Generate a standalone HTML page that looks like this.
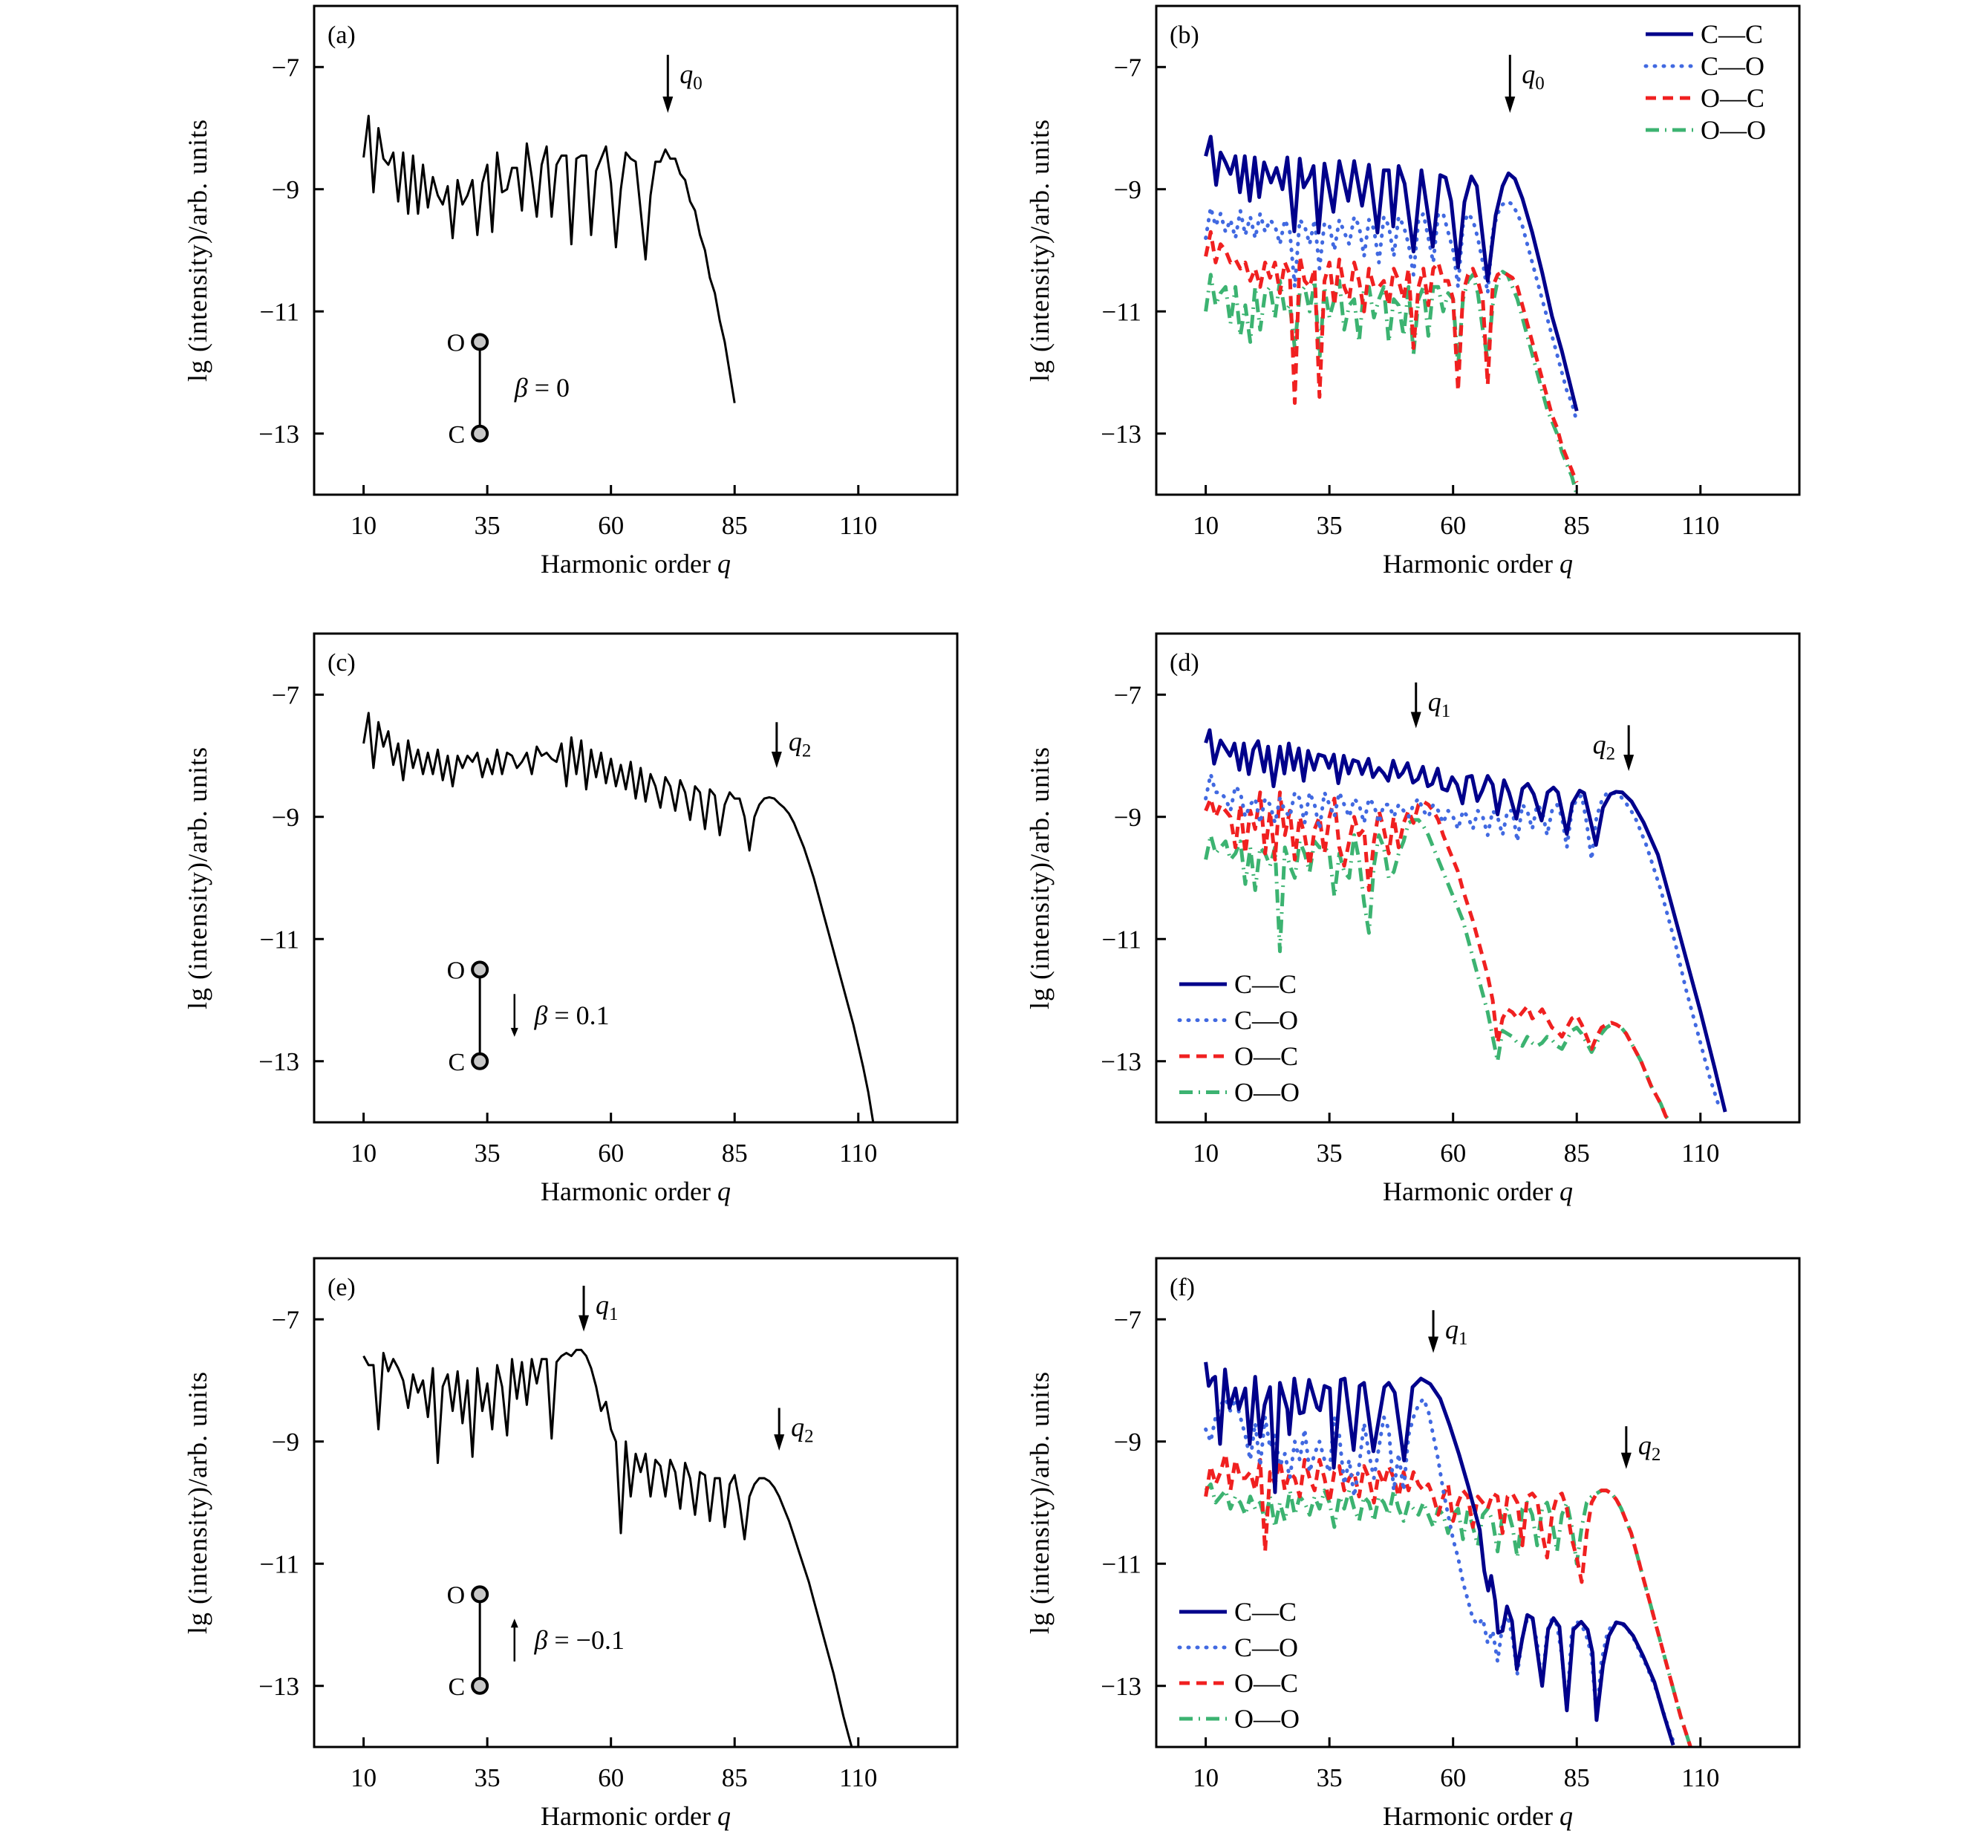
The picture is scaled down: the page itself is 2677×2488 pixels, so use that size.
<!DOCTYPE html>
<html><head><meta charset="utf-8"><style>
html,body{margin:0;padding:0;background:#fff;}
svg{display:block;}
text{font-family:"Liberation Serif","DejaVu Serif",serif;fill:#000;}
</style></head>
<body>
<svg id="fig" width="2677" height="2488" viewBox="0 0 2677 2488" xmlns="http://www.w3.org/2000/svg"></svg>
<script>
// ---------- data ----------
const xTicks = [10, 35, 60, 85, 110];
const yTicks = [-7, -9, -11, -13];
const qStart = 10;
// (a)
const aY = [-8.48,-7.8,-9.05,-8.0,-8.5,-8.6,-8.4,-9.2,-8.4,-9.4,-8.45,-9.4,-8.6,-9.3,-8.8,-9.1,-9.25,-8.95,-9.8,-8.85,-9.25,-9.1,-8.85,-9.75,-8.9,-8.6,-9.7,-8.4,-9.05,-9.0,-8.65,-8.65,-9.35,-8.25,-8.8,-9.45,-8.6,-8.3,-9.45,-8.6,-8.45,-8.45,-9.9,-8.5,-8.45,-8.45,-9.75,-8.7,-8.5,-8.3,-8.9,-9.95,-9.0,-8.4,-8.5,-8.55,-9.35,-10.15,-9.1,-8.55,-8.55,-8.35,-8.5,-8.5,-8.75,-8.85,-9.2,-9.35,-9.75,-10.0,-10.45,-10.7,-11.15,-11.5,-12.0,-12.5];
// (b)
const bCCq = [10,11,12.1,13,14,15,16,16.9,17.9,18.9,19.9,20.8,21.8,23.2,24.3,25.5,26.5,27.9,29,29.8,31,31.8,32.8,34,35.8,37,38.8,40,41.6,43,44.7,46,47,47.9,49,50.2,52,53.6,55.9,57.4,58.5,59.6,61,62.3,63.7,64.8,67,68.6,70,71.2,72.5,74,76,78,80,82,85];
const bCCy = [-8.46,-8.14,-8.93,-8.4,-8.56,-8.75,-8.46,-9.05,-8.46,-9.19,-8.48,-9.13,-8.56,-8.89,-8.65,-9.0,-8.48,-9.69,-8.5,-8.97,-8.8,-8.62,-9.71,-8.58,-9.37,-8.54,-9.19,-8.54,-9.27,-8.6,-9.71,-8.69,-8.69,-9.61,-8.62,-8.91,-10.02,-8.69,-9.94,-8.77,-8.81,-9.19,-10.28,-9.21,-8.79,-8.95,-10.5,-9.43,-8.95,-8.74,-8.83,-9.15,-9.71,-10.36,-11.08,-11.65,-12.63];
const bCO = [-9.8,-9.3,-9.6,-9.4,-9.7,-9.5,-9.8,-9.35,-9.75,-9.45,-9.8,-9.4,-9.7,-9.5,-9.6,-9.9,-9.5,-9.7,-10.6,-9.5,-9.6,-9.9,-9.5,-10.3,-9.55,-9.6,-10.0,-9.5,-9.7,-9.9,-9.45,-9.6,-10.1,-9.5,-9.65,-10.2,-9.45,-9.6,-10.1,-9.45,-9.6,-9.9,-10.4,-9.5,-9.4,-9.8,-10.2,-9.4,-9.4,-9.7,-10.0,-10.6,-9.6,-9.4,-9.5,-9.8,-10.2,-10.7,-9.7,-9.4,-9.25,-9.2,-9.25,-9.4,-9.6,-9.9,-10.2,-10.5,-10.8,-11.1,-11.4,-11.7,-12.0,-12.3,-12.5,-12.8];
const bOC = [-10.1,-9.7,-10.2,-9.9,-10.0,-10.2,-10.15,-10.3,-10.2,-10.5,-10.3,-10.6,-10.2,-10.45,-10.2,-10.7,-10.2,-10.4,-12.5,-10.1,-10.5,-10.6,-10.3,-12.4,-10.5,-10.2,-10.9,-10.15,-10.6,-10.8,-10.2,-10.5,-11.0,-10.3,-10.6,-10.6,-10.5,-10.9,-10.3,-10.5,-10.8,-10.3,-11.6,-10.6,-10.3,-10.9,-10.3,-10.2,-10.5,-10.5,-10.8,-12.3,-10.7,-10.4,-10.3,-10.5,-10.8,-12.2,-10.6,-10.4,-10.35,-10.4,-10.45,-10.6,-10.9,-11.2,-11.5,-11.8,-12.1,-12.4,-12.7,-12.9,-13.2,-13.4,-13.6,-13.8];
const bOO = [-11.0,-10.4,-10.9,-10.7,-10.6,-11.2,-10.6,-11.4,-10.9,-11.5,-10.6,-11.3,-10.7,-10.6,-11.1,-10.5,-11.0,-10.9,-11.6,-10.7,-10.6,-11.0,-10.5,-11.8,-10.6,-11.1,-10.8,-10.5,-11.3,-10.9,-10.8,-11.5,-10.6,-10.6,-11.1,-10.8,-10.6,-11.5,-10.8,-10.9,-11.4,-10.6,-11.7,-10.8,-10.6,-11.4,-10.6,-10.6,-11.0,-10.7,-10.8,-11.9,-10.8,-10.5,-10.4,-10.7,-11.3,-11.8,-10.9,-10.5,-10.35,-10.4,-10.6,-10.8,-11.1,-11.4,-11.7,-12.0,-12.3,-12.6,-12.8,-13.0,-13.3,-13.5,-13.7,-14.0];
// (c)
const cY = [-7.8,-7.3,-8.2,-7.45,-7.85,-7.6,-8.15,-7.8,-8.4,-7.75,-8.2,-7.9,-8.3,-7.95,-8.3,-7.9,-8.4,-8.0,-8.5,-8.0,-8.2,-8.0,-8.1,-7.95,-8.35,-8.05,-8.3,-7.9,-8.3,-7.95,-8.0,-8.2,-8.1,-7.95,-8.3,-7.85,-8.0,-7.95,-8.05,-8.1,-7.8,-8.5,-7.7,-8.3,-7.75,-8.55,-7.9,-8.35,-7.95,-8.45,-8.05,-8.5,-8.15,-8.55,-8.1,-8.7,-8.2,-8.75,-8.3,-8.5,-8.85,-8.35,-8.5,-8.9,-8.4,-8.6,-9.05,-8.5,-8.6,-9.2,-8.55,-8.65,-9.3,-8.8,-8.6,-8.7,-8.7,-9.0,-9.55,-9.0,-8.8,-8.7,-8.68,-8.7,-8.78,-8.85,-8.95,-9.1,-9.3,-9.5,-9.75,-10.0,-10.3,-10.6,-10.9,-11.2,-11.5,-11.8,-12.1,-12.4,-12.75,-13.1,-13.5,-14.0];
// (d)
const dCCq = [10,10.8,11.7,13,14.9,15.8,16.8,17.7,18.7,19.6,20.6,21.8,22.6,23.7,25,25.9,26.8,27.8,28.8,29.8,30.7,31.9,32.8,34,34.9,35.9,36.8,37.9,38.9,39.8,40.8,41.6,42.9,43.8,45,46,46.9,47.9,49,49.8,50.8,51.9,52.9,53.9,54.9,55.8,56.9,57.8,58.8,59.8,60.8,61.9,62.8,63.8,64.9,65.9,67,68,69,70.3,71.3,72.8,74,75.1,76.3,77.9,79.1,80.3,81.2,83,84.1,85.6,86.5,88.9,90.3,91.8,92.9,94.2,96.1,98.5,101.4,103.8,107.1,110,112.9,115];
const dCCy = [-7.79,-7.58,-8.13,-7.75,-8.0,-7.8,-8.23,-7.8,-8.3,-7.9,-7.76,-8.26,-7.85,-8.5,-7.85,-8.29,-7.8,-8.23,-7.88,-8.41,-7.92,-8.23,-7.98,-8.01,-8.2,-7.98,-8.45,-8.0,-8.29,-8.07,-8.1,-8.3,-8.05,-8.35,-8.2,-8.29,-8.41,-8.08,-8.35,-8.28,-8.12,-8.44,-8.38,-8.18,-8.5,-8.46,-8.21,-8.54,-8.57,-8.35,-8.47,-8.78,-8.35,-8.33,-8.74,-8.57,-8.33,-8.47,-8.96,-8.4,-8.6,-9.03,-8.54,-8.46,-8.63,-9.06,-8.6,-8.52,-8.6,-9.28,-8.78,-8.57,-8.61,-9.46,-8.85,-8.63,-8.59,-8.6,-8.75,-9.09,-9.62,-10.33,-11.32,-12.19,-13.12,-13.83];
const dCO = [-8.7,-8.3,-8.6,-8.6,-8.7,-8.9,-8.5,-8.6,-9.0,-8.8,-8.7,-9.1,-8.7,-8.8,-9.1,-8.7,-8.9,-9.0,-8.6,-8.7,-9.1,-8.6,-8.8,-9.2,-8.6,-8.8,-9.0,-8.6,-8.8,-9.0,-8.7,-8.8,-9.1,-8.7,-8.8,-9.1,-8.8,-8.8,-9.0,-8.8,-8.9,-9.0,-8.8,-8.7,-8.9,-9.0,-8.8,-8.9,-9.1,-8.9,-9.0,-9.2,-8.9,-9.0,-9.2,-8.9,-9.0,-9.3,-8.9,-9.0,-9.3,-8.9,-8.9,-9.4,-8.8,-8.9,-9.2,-8.8,-8.9,-9.3,-8.9,-8.8,-9.0,-9.5,-8.9,-8.7,-8.65,-9.1,-9.7,-9.0,-8.75,-8.62,-8.6,-8.62,-8.68,-8.78,-8.9,-9.05,-9.25,-9.45,-9.7,-9.95,-10.2,-10.5,-10.8,-11.1,-11.45,-11.8,-12.1,-12.4,-12.7,-13.0,-13.3,-13.55,-13.8];
const dOC = [-8.9,-8.7,-9.0,-8.8,-8.9,-9.0,-9.5,-8.8,-9.6,-8.9,-9.2,-8.6,-9.6,-8.9,-9.7,-8.6,-9.3,-8.9,-9.7,-9.0,-9.3,-9.8,-9.2,-9.0,-9.6,-9.0,-8.7,-9.5,-9.8,-9.4,-9.0,-9.3,-9.2,-10.2,-9.4,-8.9,-9.2,-9.6,-9.0,-9.5,-9.1,-8.9,-9.1,-8.8,-8.75,-8.8,-8.9,-9.05,-9.3,-9.5,-9.7,-9.9,-10.2,-10.45,-10.7,-11.0,-11.3,-11.6,-12.0,-12.7,-12.3,-12.15,-12.2,-12.3,-12.2,-12.1,-12.3,-12.25,-12.15,-12.3,-12.45,-12.5,-12.6,-12.45,-12.3,-12.25,-12.4,-12.6,-12.8,-12.6,-12.45,-12.4,-12.37,-12.4,-12.45,-12.55,-12.7,-12.85,-13.0,-13.2,-13.4,-13.55,-13.7,-13.9,-14.0];
const dOO = [-9.7,-9.3,-9.6,-9.5,-9.4,-9.7,-9.6,-9.4,-10.1,-9.5,-10.2,-9.5,-9.6,-9.8,-9.5,-11.2,-9.5,-9.8,-10.0,-9.4,-9.6,-9.9,-9.4,-9.5,-9.5,-9.6,-10.3,-9.6,-9.9,-10.0,-9.3,-9.7,-10.4,-10.9,-9.8,-9.3,-9.5,-10.0,-9.9,-9.6,-9.4,-9.1,-9.05,-9.05,-9.15,-9.3,-9.5,-9.7,-9.9,-10.1,-10.3,-10.5,-10.7,-11.0,-11.3,-11.6,-11.9,-12.2,-12.6,-13.0,-12.5,-12.55,-12.6,-12.7,-12.75,-12.6,-12.7,-12.75,-12.7,-12.6,-12.65,-12.75,-12.8,-12.65,-12.5,-12.45,-12.55,-12.7,-12.85,-12.7,-12.55,-12.45,-12.4,-12.4,-12.45,-12.55,-12.7,-12.85,-13.0,-13.2,-13.4,-13.55,-13.7,-13.9,-14.0];
// (e)
const eY = [-7.6,-7.75,-7.75,-8.8,-7.55,-7.85,-7.65,-7.8,-8.0,-8.45,-7.9,-8.2,-8.0,-8.6,-7.8,-9.35,-8.1,-7.9,-8.5,-7.85,-8.7,-8.0,-9.25,-7.8,-8.5,-8.05,-8.8,-7.75,-8.1,-8.9,-7.65,-8.3,-7.7,-8.4,-7.65,-8.05,-7.65,-7.65,-8.95,-7.7,-7.6,-7.55,-7.6,-7.5,-7.5,-7.6,-7.8,-8.1,-8.5,-8.35,-8.8,-9.0,-10.5,-9.0,-9.9,-9.2,-9.5,-9.2,-9.9,-9.3,-9.4,-9.9,-9.3,-9.5,-10.1,-9.35,-9.6,-10.2,-9.5,-9.55,-10.3,-9.6,-9.6,-10.4,-9.7,-9.55,-10.0,-10.6,-9.9,-9.7,-9.6,-9.6,-9.65,-9.75,-9.9,-10.1,-10.3,-10.55,-10.8,-11.05,-11.3,-11.6,-11.9,-12.2,-12.5,-12.8,-13.15,-13.5,-13.8,-14.1];
// (f)
const fCCq = [10,10.6,11.4,11.9,12.9,13.9,14.8,16,16.7,18,18.9,20,21,21.9,23,24,25,26.5,26.9,27.9,29,29.8,30.9,32.5,33.1,34,35.1,35.9,37.3,38.1,39.9,41.1,42,43.9,46.1,47,48.2,50.1,51.8,53.5,55.4,57.4,59.3,61.2,63.1,65.4,66.3,67.1,67.7,68.5,69.1,70,70.9,71.9,72.9,74,75,76.1,78,79.2,80.3,81.5,83,84.3,85.9,87.2,88.2,89,90.3,91.5,93,94.5,96.4,98.4,100.7,102.6,104.5];
const fCCy = [-7.7,-8.09,-7.97,-7.94,-9.04,-7.82,-8.45,-8.13,-8.47,-8.13,-9.04,-7.94,-8.92,-8.4,-8.11,-9.83,-8.04,-8.47,-8.88,-7.97,-8.54,-8.52,-7.99,-8.44,-8.49,-8.09,-8.13,-9.43,-7.99,-7.97,-9.14,-8.09,-8.04,-9.16,-8.11,-8.04,-8.2,-9.31,-8.11,-7.97,-8.06,-8.3,-8.73,-9.21,-9.74,-10.45,-11.12,-11.44,-11.2,-11.6,-12.13,-12.1,-11.7,-11.94,-12.73,-12.22,-11.84,-11.89,-13.0,-12.08,-11.89,-12.03,-13.4,-12.08,-11.95,-12.08,-12.46,-13.56,-12.66,-12.18,-11.96,-11.99,-12.18,-12.51,-12.94,-13.47,-13.97];
const fCO = [-8.8,-9.0,-8.6,-8.4,-8.3,-8.5,-8.3,-8.6,-8.9,-9.3,-8.7,-9.4,-8.6,-9.1,-8.9,-9.4,-9.2,-9.6,-9.0,-9.3,-8.8,-9.5,-9.2,-9.0,-9.3,-9.5,-8.6,-8.9,-9.7,-9.3,-9.9,-9.4,-8.7,-9.2,-9.6,-9.1,-8.6,-8.8,-9.8,-9.2,-9.8,-8.9,-8.6,-8.4,-8.3,-8.5,-8.9,-9.3,-9.8,-10.2,-10.6,-10.9,-11.3,-11.6,-11.9,-12.0,-11.9,-12.3,-12.1,-12.6,-12.0,-11.85,-12.2,-12.8,-12.2,-11.9,-11.9,-12.3,-13.0,-12.1,-11.9,-12.0,-12.5,-13.4,-12.1,-11.95,-12.0,-12.2,-12.5,-13.5,-12.6,-12.2,-12.0,-11.96,-11.97,-12.05,-12.15,-12.3,-12.5,-12.65,-12.85,-13.05,-13.3,-13.55,-13.8,-14.0];
const fOC = [-9.9,-9.4,-9.7,-9.5,-9.2,-9.8,-9.3,-9.6,-9.6,-9.5,-9.8,-9.3,-10.8,-9.5,-9.7,-9.3,-9.8,-9.5,-9.6,-9.9,-9.3,-9.6,-9.8,-9.3,-9.6,-10.0,-9.5,-9.4,-9.8,-9.6,-9.5,-9.9,-9.4,-9.6,-10.0,-9.5,-9.7,-9.4,-9.6,-9.9,-9.5,-9.8,-9.5,-9.7,-9.8,-9.7,-9.9,-10.2,-9.9,-9.7,-10.3,-10.0,-9.8,-9.9,-10.4,-9.9,-10.0,-10.1,-9.85,-9.9,-10.5,-9.9,-9.85,-10.0,-10.7,-9.9,-9.85,-9.95,-10.5,-10.9,-10.2,-9.9,-9.85,-10.1,-10.6,-10.9,-11.3,-10.5,-10.0,-9.85,-9.8,-9.8,-9.85,-9.95,-10.1,-10.3,-10.5,-10.8,-11.1,-11.4,-11.7,-12.0,-12.3,-12.6,-12.9,-13.2,-13.5,-13.75,-14.0];
const fOO = [-9.8,-9.7,-10.0,-9.9,-9.8,-10.1,-9.9,-10.0,-10.2,-9.9,-10.1,-10.0,-10.3,-9.9,-10.4,-10.0,-10.3,-9.8,-10.2,-9.9,-10.0,-10.2,-9.9,-10.1,-9.8,-10.0,-10.4,-9.9,-10.1,-9.8,-10.1,-10.3,-9.9,-10.0,-10.3,-9.9,-10.0,-10.2,-9.8,-10.1,-10.3,-10.0,-10.1,-10.2,-10.0,-10.2,-10.4,-10.1,-10.2,-10.5,-10.2,-10.1,-10.6,-10.1,-10.4,-10.7,-10.2,-10.1,-10.3,-10.8,-10.2,-10.1,-10.4,-10.9,-10.1,-10.0,-10.2,-10.7,-10.1,-10.0,-10.3,-10.8,-10.2,-10.0,-10.4,-11.0,-10.4,-10.0,-9.9,-9.85,-9.8,-9.8,-9.85,-9.95,-10.1,-10.3,-10.5,-10.8,-11.1,-11.4,-11.7,-12.0,-12.3,-12.6,-12.9,-13.2,-13.5,-13.75,-14.0];

// ---------- drawing ----------
const NS = "http://www.w3.org/2000/svg";
const svg = document.getElementById('fig');
const colL = [423, 1557], rowT = [8, 853, 1694], W = 866, H = 658;
const XMIN = 0, XMAX = 130, YMAX = -6, YMIN = -14;
const COL = {cc:'#00008b', co:'#4169e1', oc:'#f02020', oo:'#3cb371'};
const DASH = {cc:'', co:'1 11', oc:'14 9', oo:'18 8 2 8'};
const WID = {cc:5, co:5, oc:5, oo:5};

function mk(tag, attrs, parent){
  const e = document.createElementNS(NS, tag);
  for (const k in attrs) e.setAttribute(k, attrs[k]);
  (parent||svg).appendChild(e);
  return e;
}
function txt(s, x, y, size, anchor, parent, italic){
  const t = mk('text', {x:x, y:y, 'font-size':size, 'text-anchor':anchor||'start'}, parent);
  if (italic) t.setAttribute('font-style','italic');
  t.textContent = s;
  return t;
}

function panel(ci, ri, letter){
  const L = colL[ci], T = rowT[ri];
  const g = mk('g', {});
  
  
  const xs = q => L + (q - XMIN) / (XMAX - XMIN) * W;
  const ys = v => T + (YMAX - v) / (YMAX - YMIN) * H;
  const cp = mk('clipPath', {id:'clip'+letter}, g);
  mk('rect', {x:L, y:T, width:W, height:H}, cp);
  const plot = mk('g', {'clip-path':'url(#clip'+letter+')'}, g);
  
  
  xTicks.forEach(t => {
    const tk = mk('line', {x1:xs(t), x2:xs(t), y1:T+H, y2:T+H-13, stroke:'#000', 'stroke-width':3}, g);
    
    
    const lb = txt(String(t), xs(t), T+H+53, 35, 'middle', g);
    
    
  });
  yTicks.forEach(t => {
    const tk = mk('line', {x1:L, x2:L+13, y1:ys(t), y2:ys(t), stroke:'#000', 'stroke-width':3}, g);
    
    
    const lb = txt('\u2212' + String(-t), L-20, ys(t)+12, 35, 'end', g);
    
    
  });
  const box = mk('rect', {x:L, y:T, width:W, height:H, fill:'none', stroke:'#000', 'stroke-width':3}, g);
  
  
  const xt = mk('text', {x:L+W/2, y:T+H+105, 'font-size':36, 'text-anchor':'middle'}, g);
  
  
  xt.innerHTML = 'Harmonic order <tspan font-style="italic">q</tspan>';
  const yt = mk('text', {x:0, y:0, 'font-size':36, 'text-anchor':'middle', 'letter-spacing':'1', transform:'translate('+(L-145)+','+(T+H/2)+') rotate(-90)'}, g);
  
  
  yt.textContent = 'lg (intensity)/arb. units';
  const pl = txt('(' + letter + ')', L+18, T+50, 34, 'start', g);
  
  
  return {g, plot, xs, ys, L, T};
}

function series(p, qs, vals, kind, name){
  let d = '';
  vals.forEach((v, i) => { d += (i ? 'L' : 'M') + p.xs(qs[i]).toFixed(1) + ',' + p.ys(v).toFixed(1); });
  const path = mk('path', {d:d, fill:'none', stroke: kind==='k' ? '#000' : COL[kind],
    'stroke-width': kind==='k' ? 3 : WID[kind], 'stroke-linejoin':'round',
    'stroke-linecap': kind==='co' ? 'round' : 'butt'}, p.plot);
  if (kind !== 'k' && DASH[kind]) path.setAttribute('stroke-dasharray', DASH[kind]);
  
  
}
function seq(vals){ return vals.map((v, i) => qStart + i); }

function arrow(p, q, v1, v2, label, side, name){
  const x = p.xs(q), y1 = p.ys(v1), y2 = p.ys(v2);
  const a = mk('g', {}, p.g);
  
  
  mk('line', {x1:x, x2:x, y1:y1, y2:y2-18, stroke:'#000', 'stroke-width':3}, a);
  mk('path', {d:'M'+(x-7)+','+(y2-22)+'L'+(x+7)+','+(y2-22)+'L'+x+','+y2+'Z', fill:'#000'}, a);
  const tx = side === 'left' ? x-18 : x+16;
  const t = mk('text', {x:tx, y:y1+38, 'font-size':36, 'text-anchor': side==='left'?'end':'start', 'font-style':'italic'}, a);
  t.innerHTML = 'q<tspan font-size="25" font-style="normal" dy="8">' + label + '</tspan>';
}

function molecule(p, beta, arrowDir){
  const m = mk('g', {}, p.g);
  
  
  const x = p.xs(33.5), yO = p.ys(-11.5), yC = p.ys(-13);
  mk('line', {x1:x, x2:x, y1:yO, y2:yC, stroke:'#000', 'stroke-width':3}, m);
  mk('circle', {cx:x, cy:yO, r:10, fill:'#c8c8c8', stroke:'#000', 'stroke-width':4}, m);
  mk('circle', {cx:x, cy:yC, r:10, fill:'#c8c8c8', stroke:'#000', 'stroke-width':4}, m);
  txt('O', x-20, yO+12, 34, 'end', m);
  txt('C', x-20, yC+12, 34, 'end', m);
  let bx = p.xs(40.5);
  if (arrowDir) {
    const ax = p.xs(40.5);
    const ya = p.ys(-11.9), yb = p.ys(-12.6);
    if (arrowDir === 'down') {
      mk('line', {x1:ax, x2:ax, y1:ya, y2:yb-10, stroke:'#000', 'stroke-width':2.5}, m);
      mk('path', {d:'M'+(ax-5)+','+(yb-12)+'L'+(ax+5)+','+(yb-12)+'L'+ax+','+yb+'Z', fill:'#000'}, m);
    } else {
      mk('line', {x1:ax, x2:ax, y1:yb, y2:ya+10, stroke:'#000', 'stroke-width':2.5}, m);
      mk('path', {d:'M'+(ax-5)+','+(ya+12)+'L'+(ax+5)+','+(ya+12)+'L'+ax+','+ya+'Z', fill:'#000'}, m);
    }
    bx = p.xs(44.5);
  }
  const t = mk('text', {x:bx, y:p.ys(-12.25)+12, 'font-size':36}, m);
  t.innerHTML = '<tspan font-style="italic">β</tspan> = ' + beta;
}

function legend(p, x0, y0, dy, name){
  const lg = mk('g', {}, p.g);
  
  
  const items = [['cc','C—C'],['co','C—O'],['oc','O—C'],['oo','O—O']];
  items.forEach((it, i) => {
    const e = mk('g', {}, lg);
    
    
    const y = y0 + i*dy;
    const ln = mk('line', {x1:x0, x2:x0+64, y1:y, y2:y, stroke:COL[it[0]], 'stroke-width':5,
      'stroke-linecap': it[0]==='co' ? 'round' : 'butt'}, e);
    if (DASH[it[0]]) ln.setAttribute('stroke-dasharray', DASH[it[0]]);
    txt(it[1], x0+74, y+12, 36, 'start', e);
  });
}

const pa = panel(0, 0, 'a');
series(pa, seq(aY), aY, 'k', 'spectrum-line');
arrow(pa, 71.5, -6.8, -7.75, '0', 'right', 'arrow-q0');
molecule(pa, '0', null);

const pb = panel(1, 0, 'b');
series(pb, seq(bOO), bOO, 'oo', 'series-o-o');
series(pb, seq(bOC), bOC, 'oc', 'series-o-c');
series(pb, seq(bCO), bCO, 'co', 'series-c-o');
series(pb, bCCq, bCCy, 'cc', 'series-c-c');
arrow(pb, 71.5, -6.8, -7.75, '0', 'right', 'arrow-q0');
legend(pb, 2216, 46, 43, 'legend');

const pc = panel(0, 1, 'c');
series(pc, seq(cY), cY, 'k', 'spectrum-line');
arrow(pc, 93.5, -7.45, -8.2, '2', 'right', 'arrow-q2');
molecule(pc, '0.1', 'down');

const pd = panel(1, 1, 'd');
series(pd, seq(dOO), dOO, 'oo', 'series-o-o');
series(pd, seq(dOC), dOC, 'oc', 'series-o-c');
series(pd, seq(dCO), dCO, 'co', 'series-c-o');
series(pd, dCCq, dCCy, 'cc', 'series-c-c');
arrow(pd, 52.5, -6.8, -7.55, '1', 'right', 'arrow-q1');
arrow(pd, 95.5, -7.5, -8.25, '2', 'left', 'arrow-q2');
legend(pd, 1588, 1325, 48.5, 'legend');

const pe = panel(0, 2, 'e');
series(pe, seq(eY), eY, 'k', 'spectrum-line');
arrow(pe, 54.5, -6.45, -7.2, '1', 'right', 'arrow-q1');
arrow(pe, 94, -8.45, -9.15, '2', 'right', 'arrow-q2');
molecule(pe, '\u22120.1', 'up');

const pf = panel(1, 2, 'f');
series(pf, seq(fOO), fOO, 'oo', 'series-o-o');
series(pf, seq(fOC), fOC, 'oc', 'series-o-c');
series(pf, seq(fCO), fCO, 'co', 'series-c-o');
series(pf, fCCq, fCCy, 'cc', 'series-c-c');
arrow(pf, 56, -6.85, -7.55, '1', 'right', 'arrow-q1');
arrow(pf, 95, -8.75, -9.45, '2', 'right', 'arrow-q2');
legend(pf, 1588, 2170, 48, 'legend');
</script>
</body></html>
